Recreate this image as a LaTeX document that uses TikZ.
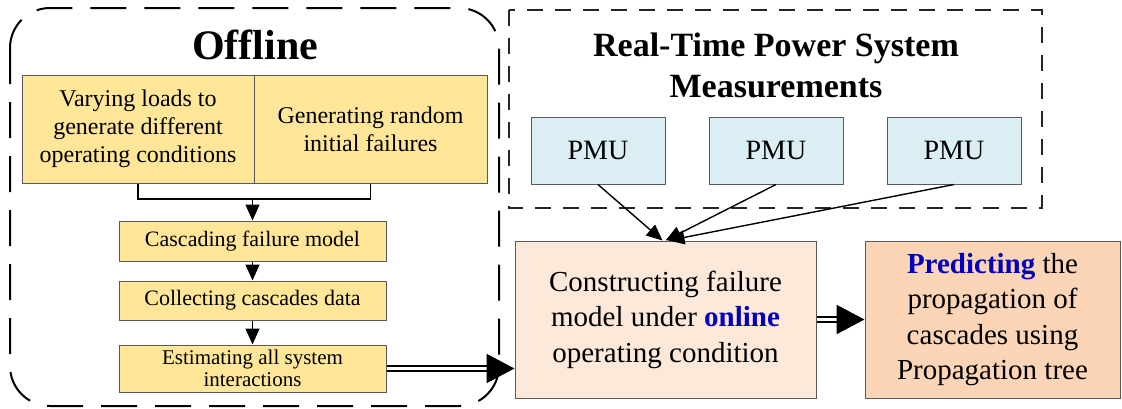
\documentclass[tikz,border=0pt]{standalone}
\usepackage{fontspec}
\setmainfont{Liberation Serif}
\usetikzlibrary{arrows.meta,calc}
\definecolor{yel}{HTML}{FFE699}
\definecolor{peach}{HTML}{FCE9DA}
\definecolor{orng}{HTML}{FBD5B5}
\definecolor{pmublue}{HTML}{DAEEF3}
\definecolor{edge}{HTML}{595959}
\definecolor{hl}{RGB}{0,0,190}
\tikzset{
  box/.style={draw=edge, line width=1pt, inner sep=0pt, align=center},
  ybox/.style={box, fill=yel, minimum width=267pt},
  link/.style={line width=1.4pt},
  flow/.style={link, -{Triangle[length=16pt,width=14pt]}},
  bigflow/.style={double, double distance=2.4pt, line width=2.2pt,
                  -{Triangle[length=28pt,width=29pt]}},
}
\begin{document}
\begin{tikzpicture}[x=1pt,y=-1pt]
\useasboundingbox (0,0) rectangle (1122,408);

% offline stage frame
\draw[line width=2pt, dash pattern=on 36pt off 18pt, rounded corners=40pt]
  (10,8) rectangle (499,406);
\node[font=\fontsize{42}{48}\selectfont\bfseries] (offtitle) at (255,45) {Offline};

\node[box, fill=yel, minimum width=232pt, minimum height=108pt,
      font=\fontsize{24}{28}\selectfont] (vary) at (138,129)
  {Varying loads to\\generate different\\operating conditions};
\node[box, fill=yel, minimum width=233pt, minimum height=108pt,
      font=\fontsize{24}{28}\selectfont] (rand) at (370.5,129)
  {Generating random\\initial failures};

\node[ybox, minimum height=40pt, font=\fontsize{22}{24}\selectfont] (casc) at (252.5,241)
  {Cascading failure model};
\node[ybox, minimum height=39pt, font=\fontsize{22}{24}\selectfont] (coll) at (252.5,300.5)
  {Collecting cascades data};
\node[ybox, minimum height=47pt, font=\fontsize{21}{22.5}\selectfont] (est) at (252.5,368.5)
  {Estimating all system\\interactions};

\coordinate (split) at (casc.north |- 0,199);
\draw[link] (vary.south) |- (split) -| (rand.south);
\draw[flow] (split) -- (casc.north);
\draw[flow] (casc.south) -- (coll.north);
\draw[flow] (coll.south) -- (est.north);

% real-time measurement frame
\draw[line width=1.2pt, black!85, dash pattern=on 16pt off 12pt] (509,10) rectangle (1042,208);
\node[font=\fontsize{34}{41}\selectfont\bfseries, align=center] (rttitle) at (776,65)
  {Real-Time Power System\\Measurements};

\foreach \i/\x in {1/598,2/776,3/954}
  \node[box, fill=pmublue, minimum width=134pt, minimum height=67pt,
        font=\fontsize{28}{32}\selectfont] (pmu\i) at (\x,150.5) {PMU};

\node[box, fill=peach, minimum width=301pt, minimum height=157pt,
      font=\fontsize{29}{35.5}\selectfont] (cons) at (665.5,319.5)
  {Constructing failure\\model under {\bfseries\color{hl}online}\\operating condition};
\node[box, fill=orng, minimum width=255pt, minimum height=157pt,
      font=\fontsize{29}{35.5}\selectfont] (pred) at (992.5,319.5)
  {{\bfseries\color{hl}Predicting} the\\propagation of\\cascades using\\Propagation tree};

\draw[flow] (pmu1.south) -- ([xshift=-3pt]cons.north);
\draw[flow] (pmu2.south) -- (cons.north);
\draw[flow] (pmu3.south) -- ([xshift=3pt]cons.north);

\draw[bigflow] (est.east) -- (est.east -| cons.west);
\draw[bigflow] (cons.east) -- (pred.west);
\end{tikzpicture}
\end{document}
